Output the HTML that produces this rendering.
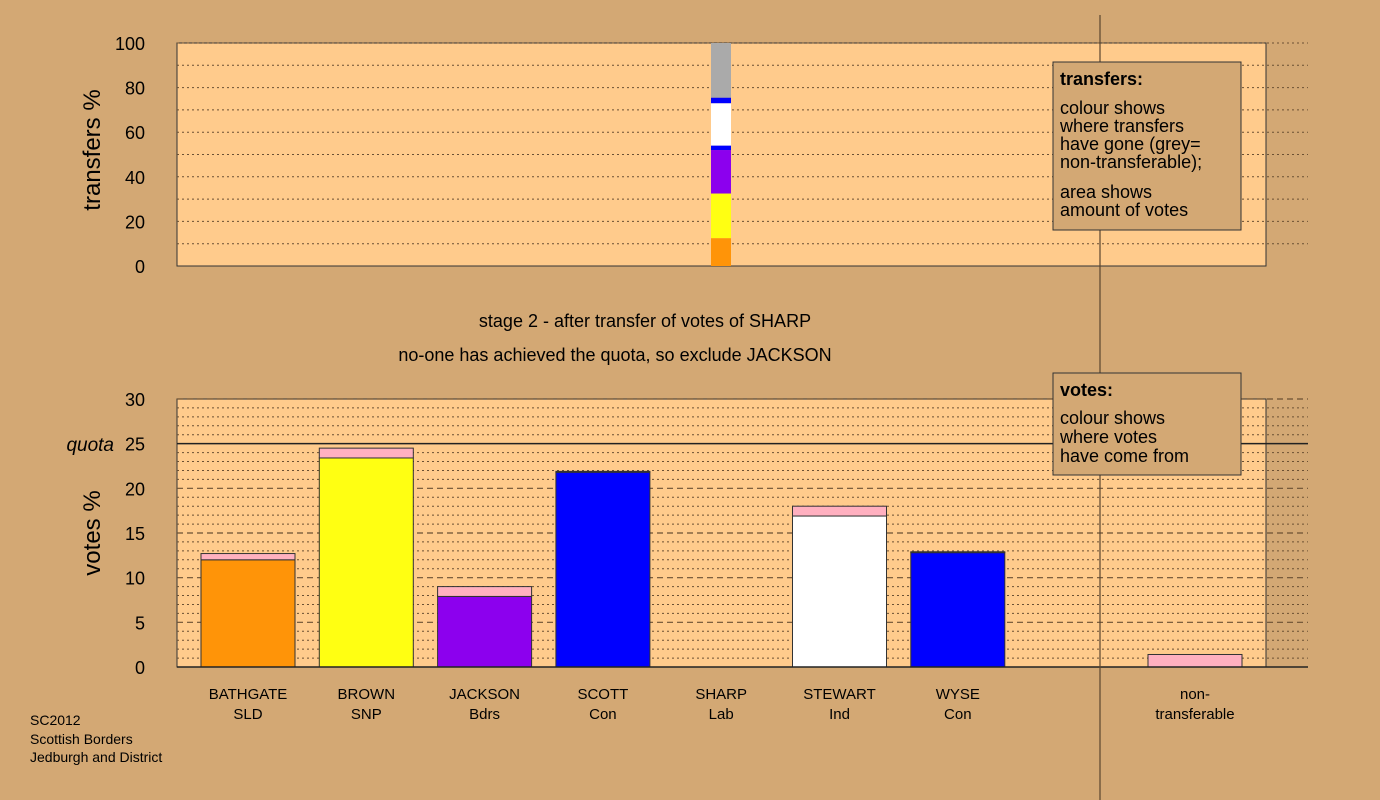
<!DOCTYPE html>
<html><head><meta charset="utf-8"><style>
body{margin:0;background:#d3a874;}
svg{display:block;font-family:"Liberation Sans",sans-serif;}
</style></head><body>
<svg id="c" width="1380" height="800" xmlns="http://www.w3.org/2000/svg">
<rect x="0" y="0" width="1380" height="800" fill="#d3a874"/>
<rect x="177" y="43" width="1089" height="223" fill="#ffcb8c" stroke="#333" stroke-width="1"/>
<rect x="177" y="399" width="1089" height="268" fill="#ffcb8c" stroke="#333" stroke-width="1"/>
<g id="g"></g>
<text x="100" y="150" font-size="24" text-anchor="middle" transform="rotate(-90 100 150)">transfers %</text>
<text x="100" y="533" font-size="24" text-anchor="middle" transform="rotate(-90 100 533)">votes %</text>
<text x="645" y="327" font-size="18" text-anchor="middle">stage 2 - after transfer of votes of SHARP</text>
<text x="615" y="361" font-size="18" text-anchor="middle">no-one has achieved the quota, so exclude JACKSON</text>
<text x="114" y="451" font-size="19" font-style="italic" text-anchor="end">quota</text>
<line x1="1100" y1="15" x2="1100" y2="800" stroke="#5a4630" stroke-width="1.2"/>
<g>
<rect x="1053" y="62" width="188" height="168" fill="#d3a874" stroke="#333"/>
<text x="1060" y="85" font-size="18" font-weight="bold">transfers:</text>
<text font-size="18"><tspan x="1060" y="114">colour shows</tspan><tspan x="1060" y="132">where transfers</tspan><tspan x="1060" y="150">have gone (grey=</tspan><tspan x="1060" y="168">non-transferable);</tspan><tspan x="1060" y="198">area shows</tspan><tspan x="1060" y="216">amount of votes</tspan></text>
</g>
<g>
<rect x="1053" y="373" width="188" height="102" fill="#d3a874" stroke="#333"/>
<text x="1060" y="396" font-size="18" font-weight="bold">votes:</text>
<text font-size="18"><tspan x="1060" y="424">colour shows</tspan><tspan x="1060" y="443">where votes</tspan><tspan x="1060" y="462">have come from</tspan></text>
</g>
<text font-size="14"><tspan x="30" y="725">SC2012</tspan><tspan x="30" y="744">Scottish Borders</tspan><tspan x="30" y="762">Jedburgh and District</tspan></text>
</svg>
<script>
const candidates=["BATHGATE","BROWN","JACKSON","SCOTT","SHARP","STEWART","WYSE","non-"];
const parties=["SLD","SNP","Bdrs","Con","Lab","Ind","Con","transferable"];
const baseVotes=[12.0,23.4,7.9,21.8,0,16.9,12.8,0];
const transferVotes=[0.7,1.1,1.1,0.1,0,1.1,0.1,1.4];
const baseColors=["#ff9408","#ffff12","#8c00ee","#0000ff","#ccc","#ffffff","#0000ff","#ffb0c0"];
const transferSegments=[12.5,20,19.5,2,19,2.5,24.5];
const transferColors=["#ff9408","#ffff12","#8c00ee","#0000ff","#ffffff","#0000ff","#aaaaaa"];
const votesTicks=[0,5,10,15,20,25,30];
const transfersTicks=[0,20,40,60,80,100];
const quota=25;

const NS="http://www.w3.org/2000/svg";
const g=document.getElementById('g');
function el(t,a,p){const e=document.createElementNS(NS,t);for(const k in a)e.setAttribute(k,a[k]);(p||g).appendChild(e);return e;}
const vy=v=>667-v*(268/30);
const ty=v=>266-v*2.23;
const bx=i=>201+i*118.3;
const bw=94;
// grid votes
for(let v=1;v<=30;v++){
  const y=vy(v);
  if(v===quota)continue;
  const l=el('line',{x1:177,x2:1308,y1:y,y2:y,stroke:'#6b5033','stroke-width':v%5===0?1.2:1,'stroke-dasharray':v%5===0?'6,4':'2,3'});
  
  
}
for(let v=10;v<=100;v+=10){
  const l=el('line',{x1:177,x2:1308,y1:ty(v),y2:ty(v),stroke:'#6b5033','stroke-width':1,'stroke-dasharray':'2,3'});
  
  
}
const q=el('line',{x1:177,x2:1308,y1:vy(quota),y2:vy(quota),stroke:'#222','stroke-width':1.5});


// axes ticks
votesTicks.forEach(v=>{
  const t=el('text',{x:145,y:vy(v)+7,'font-size':18,'text-anchor':'end'});t.textContent=v;
  
  
});
transfersTicks.forEach(v=>{
  const t=el('text',{x:145,y:ty(v)+7,'font-size':18,'text-anchor':'end'});t.textContent=v;
  
  
});
// bars
candidates.forEach((c,i)=>{
  const x=i===7?1148:bx(i);
  if(baseVotes[i]>0){
    const r=el('rect',{x:x,y:vy(baseVotes[i]),width:bw,height:vy(0)-vy(baseVotes[i]),fill:baseColors[i],stroke:'#333','stroke-width':1});
    
    
  }
  if(transferVotes[i]>0){
    const top=baseVotes[i]+transferVotes[i];
    const r=el('rect',{x:x,y:vy(top),width:bw,height:vy(baseVotes[i])-vy(top),fill:'#ffb0c0',stroke:'#333','stroke-width':1});
    
    
  }
  const t=el('text',{x:x+bw/2,'font-size':15,'text-anchor':'middle'});
  
  
  const a=el('tspan',{x:x+bw/2,y:699},t);a.textContent=c;
  const b=el('tspan',{x:x+bw/2,y:719},t);b.textContent=parties[i];
});
// transfer stacked bar
let acc=0;
transferSegments.forEach((s,i)=>{
  const r=el('rect',{x:711,y:ty(acc+s),width:20,height:ty(acc)-ty(acc+s),fill:transferColors[i]});
  
  
  acc+=s;
});
const ax=el('line',{x1:177,x2:1308,y1:667,y2:667,stroke:'#222','stroke-width':1.5});


</script>
</body></html>
